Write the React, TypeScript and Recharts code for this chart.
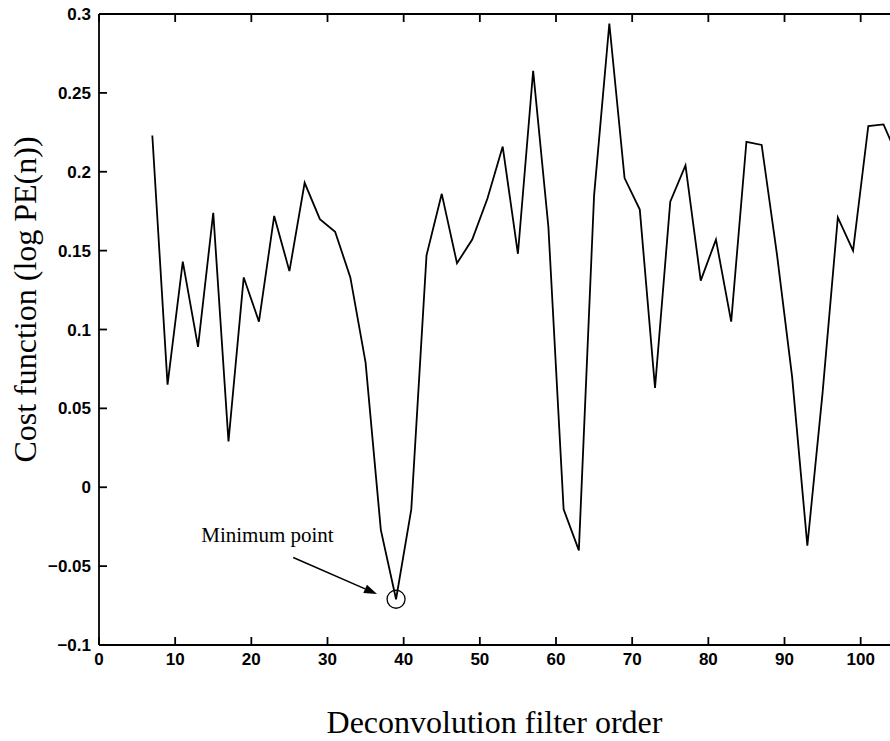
import { LineChart, Line, XAxis, YAxis, ReferenceDot, ReferenceLine, Label } from 'recharts'

const orders = [
  7, 9, 11, 13, 15, 17, 19, 21, 23, 25, 27, 29, 31, 33, 35, 37, 39, 41, 43, 45, 47, 49, 51, 53, 55,
  57, 59, 61, 63, 65, 67, 69, 71, 73, 75, 77, 79, 81, 83, 85, 87, 89, 91, 93, 95, 97, 99, 101, 103, 105,
]

const costs = [
  0.223, 0.065, 0.143, 0.089, 0.174, 0.029, 0.133, 0.105, 0.172, 0.137, 0.193, 0.17, 0.162, 0.133, 0.079,
  -0.027, -0.071, -0.014, 0.147, 0.186, 0.142, 0.157, 0.183, 0.216, 0.148, 0.264, 0.165, -0.014, -0.04,
  0.185, 0.294, 0.196, 0.176, 0.063, 0.181, 0.204, 0.131, 0.157, 0.105, 0.219, 0.217, 0.148, 0.07, -0.037,
  0.06, 0.171, 0.15, 0.229, 0.23, 0.208,
]

const xTicks = [0, 10, 20, 30, 40, 50, 60, 70, 80, 90, 100]
const yTicks = [-0.1, -0.05, 0, 0.05, 0.1, 0.15, 0.2, 0.25, 0.3]

// minimum point annotation (data units)
const minOrder = 39
const minCost = -0.071
const arrowFrom = { x: 25.5, y: -0.0445 }
const arrowTo = { x: 36.5, y: -0.0677 }

const data = orders.map((n, i) => ({ n, cost: costs[i] }))

const sans = 'Liberation Sans, Arial, sans-serif'
const serif = 'Liberation Serif, Times New Roman, serif'
const TICK = 8
const GAP = 8

function fmtY(v: number) {
  if (v < 0) return '\u2212' + String(-v)
  return String(v)
}

// eslint-disable-next-line @typescript-eslint/no-explicit-any
function BottomTick(props: any) {
  const { x, y, payload } = props
  return (
    <text x={x} y={y + 12} textAnchor="middle" fontFamily={sans} fontSize={17} fontWeight={600} fill="#000">
      {payload.value}
    </text>
  )
}

// eslint-disable-next-line @typescript-eslint/no-explicit-any
function LeftTick(props: any) {
  const { x, y, payload } = props
  return (
    <text x={x} y={y} dy="0.36em" textAnchor="end" fontFamily={sans} fontSize={17} fontWeight={600} fill="#000">
      {fmtY(payload.value)}
    </text>
  )
}

// inward tick stubs, matlab style (top + bottom for x, left for y)
// eslint-disable-next-line @typescript-eslint/no-explicit-any
function XStubs(props: any) {
  const { x1, y1, x2, y2 } = props
  const top = Math.min(y1, y2)
  const bot = Math.max(y1, y2)
  return (
    <g>
      <line x1={x1} x2={x2} y1={top} y2={top + TICK} stroke="#000" strokeWidth={1.8} />
      <line x1={x1} x2={x2} y1={bot} y2={bot - TICK} stroke="#000" strokeWidth={1.8} />
    </g>
  )
}

// eslint-disable-next-line @typescript-eslint/no-explicit-any
function YStub(props: any) {
  const { x1, y1, x2 } = props
  const left = Math.min(x1, x2)
  return <line x1={left} x2={left + TICK} y1={y1} y2={y1} stroke="#000" strokeWidth={1.8} />
}

// eslint-disable-next-line @typescript-eslint/no-explicit-any
function Arrow(props: any) {
  const { x1, y1, x2, y2 } = props
  const ang = Math.atan2(y2 - y1, x2 - x1)
  const len = 13
  const half = 4.5
  const bx = x2 - len * Math.cos(ang)
  const by = y2 - len * Math.sin(ang)
  const px = -Math.sin(ang) * half
  const py = Math.cos(ang) * half
  return (
    <g>
      <line x1={x1} y1={y1} x2={bx} y2={by} stroke="#000" strokeWidth={1.5} />
      <polygon points={`${x2},${y2} ${bx + px},${by + py} ${bx - px},${by - py}`} fill="#000" />
      <text x={x1 - 92} y={y1 - 15} fontFamily={serif} fontSize={21} fill="#000">
        Minimum point
      </text>
    </g>
  )
}

export default function App() {
  return (
    <div style={{ position: 'absolute', left: 0, top: 0, background: '#fff' }}>
      <LineChart width={890} height={741} data={data} margin={{ top: 0, right: 0, bottom: 0, left: 0 }}>
        <XAxis
          xAxisId="top"
          orientation="top"
          dataKey="n"
          type="number"
          domain={[0, 103.85]}
          ticks={xTicks}
          allowDataOverflow
          height={14}
          tick={false}
          tickLine={false}
          axisLine={{ stroke: '#000', strokeWidth: 1.8 }}
        />
        <XAxis
          dataKey="n"
          type="number"
          domain={[0, 103.85]}
          ticks={xTicks}
          allowDataOverflow
          height={96}
          tickSize={0}
          tickMargin={GAP}
          tick={BottomTick}
          tickLine={false}
          axisLine={{ stroke: '#000', strokeWidth: 1.8 }}
        >
          <Label
            // eslint-disable-next-line @typescript-eslint/no-explicit-any
            content={(p: any) => (
              <text
                x={p.viewBox.x + p.viewBox.width / 2}
                y={p.viewBox.y + 88}
                textAnchor="middle"
                fontFamily={serif}
                fontSize={32}
                fill="#000"
              >
                Deconvolution filter order
              </text>
            )}
          />
        </XAxis>
        <YAxis
          type="number"
          domain={[-0.1, 0.3]}
          ticks={yTicks}
          width={99}
          tickSize={0}
          tickMargin={GAP}
          tick={LeftTick}
          tickLine={false}
          axisLine={{ stroke: '#000', strokeWidth: 1.8 }}
        >
          <Label
            // eslint-disable-next-line @typescript-eslint/no-explicit-any
            content={(p: any) => {
              const cx = 25
              const cy = p.viewBox.y + p.viewBox.height / 2 - 30
              return (
                <text
                  x={cx}
                  y={cy}
                  transform={`rotate(-90 ${cx} ${cy})`}
                  textAnchor="middle"
                  dominantBaseline="central"
                  fontFamily={serif}
                  fontSize={32}
                  fill="#000"
                >
                  Cost function (log PE(n))
                </text>
              )
            }}
          />
        </YAxis>
        {xTicks.map((t) => (
          <ReferenceLine key={'x' + t} x={t} shape={XStubs} ifOverflow="visible" />
        ))}
        {yTicks.map((t) => (
          <ReferenceLine key={'y' + t} y={t} shape={YStub} ifOverflow="visible" />
        ))}
        <Line
          type="linear"
          dataKey="cost"
          stroke="#000"
          strokeWidth={1.8}
          dot={false}
          activeDot={false}
          isAnimationActive={false}
        />
        <ReferenceDot x={minOrder} y={minCost} r={9} fill="none" stroke="#000" strokeWidth={1.3} />
        <ReferenceLine segment={[arrowFrom, arrowTo]} shape={Arrow} ifOverflow="visible" />
      </LineChart>
    </div>
  )
}
